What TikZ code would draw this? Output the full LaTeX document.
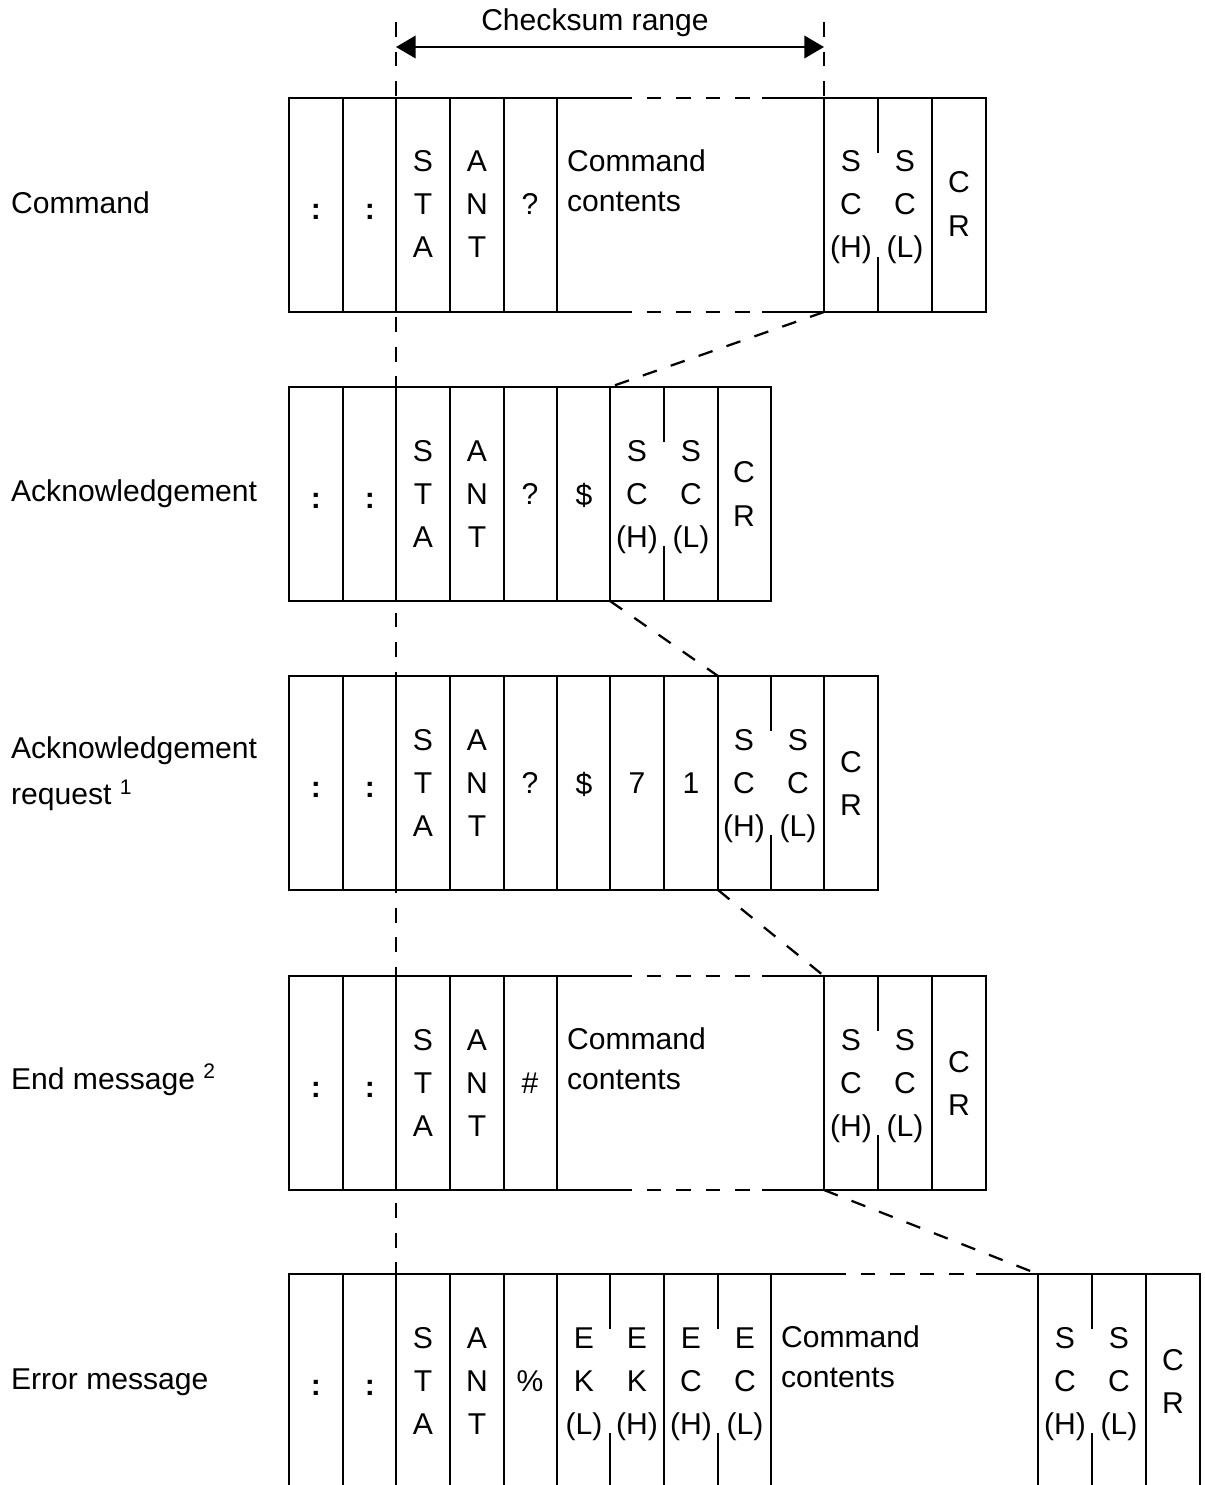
\documentclass[tikz,border=0pt]{standalone}
\usepackage{fontspec}
\setmainfont{Liberation Sans}
\usetikzlibrary{arrows.meta, positioning}

\begin{document}
\begin{tikzpicture}[
    x=0.025cm, y=-0.025cm,
    line width=1.6pt,
    every node/.style={font=\fontsize{21.4}{30.6}\selectfont, inner sep=0pt},
    cell/.style={align=center, text depth=0pt},
    colon/.style={font=\fontsize{21.4}{30.6}\selectfont\bfseries},
    txt/.style={anchor=north west, align=left, font=\fontsize{21.4}{28.4}\selectfont},
    lbl/.style={anchor=base west},
    frame/.style={line cap=rect},
    guide/.style={dash pattern=on 10.5pt off 10.5pt},
    rangearrow/.style={{Triangle[length=14pt, width=16pt]}-{Triangle[length=14pt, width=16pt]}}
  ]
  \useasboundingbox (0,0) rectangle (1204,1485);
  \clip (0,0) rectangle (1204,1485);

  % checksum range
  \coordinate (gl-top) at (396,22);
  \coordinate (gl-bot) at (396,1274);
  \coordinate (gr-top) at (824,22);
  \coordinate (gr-bot) at (824,98);
  \draw[guide] (gl-top) -- (gl-bot);
  \draw[guide] (gr-top) -- (gr-bot);
  \coordinate (rng-l) at (396,47);
  \coordinate (rng-r) at (824,47);
  \draw[rangearrow] (rng-l) -- (rng-r);
  \node (rng) at (595,23) {Checksum range};

  % command
  \foreach \x in {289,343,396,450,504,557,824,932,986}
    \draw[frame] (\x,98) -- (\x,312);
  \draw[frame] (878,98) -- (878,152) (878,258) -- (878,312);
  \foreach \y in {98,312} {
    \draw[frame] (289,\y) -- (617,\y) (763,\y) -- (986,\y);
    \draw[guide] (617,\y) -- (763,\y);
  }
  \node[lbl] (cmd) at (10,213) {Command};
  \node[colon] (cmd-1) at (316,212) {:};
  \node[colon] (cmd-2) at (370,212) {:};
  \node[cell] (cmd-sta) at (423,204) {S\\T\\A};
  \node[cell] (cmd-ant) at (477,204) {A\\N\\T};
  \node[cell] (cmd-q) at (530,204) {?};
  \node[txt] (cmd-txt) at (566,149) {Command\\contents};
  \node[cell] (cmd-sch) at (851,204) {S\\C\\(H)};
  \node[cell] (cmd-scl) at (905,204) {S\\C\\(L)};
  \node[cell] (cmd-cr) at (959,204) {C\\R};
  \coordinate (cmd-sc) at (824,312);

  % acknowledgement
  \foreach \x in {289,343,396,450,504,557,610,718,771}
    \draw[frame] (\x,387) -- (\x,601);
  \draw[frame] (664,387) -- (664,441) (664,547) -- (664,601);
  \draw[frame] (289,387) -- (771,387) (289,601) -- (771,601);
  \node[lbl] (ack) at (10,501) {Acknowledgement};
  \node[colon] (ack-1) at (316,501) {:};
  \node[colon] (ack-2) at (370,501) {:};
  \node[cell] (ack-sta) at (423,494) {S\\T\\A};
  \node[cell] (ack-ant) at (477,494) {A\\N\\T};
  \node[cell] (ack-q) at (530,494) {?};
  \node[cell] (ack-d) at (584,494) {\$};
  \node[cell] (ack-sch) at (637,494) {S\\C\\(H)};
  \node[cell] (ack-scl) at (691,494) {S\\C\\(L)};
  \node[cell] (ack-cr) at (744,494) {C\\R};
  \coordinate (ack-sct) at (610,387);
  \coordinate (ack-scb) at (610,601);

  % acknowledgement request
  \foreach \x in {289,343,396,450,504,557,610,664,718,824,878}
    \draw[frame] (\x,676) -- (\x,890);
  \draw[frame] (771,676) -- (771,730) (771,836) -- (771,890);
  \draw[frame] (289,676) -- (878,676) (289,890) -- (878,890);
  \node[anchor=west, align=left, font=\fontsize{21.4}{32.7}\selectfont] (req)
    at (10,774) {Acknowledgement\\request \textsuperscript{1}};
  \node[colon] (req-1) at (316,790) {:};
  \node[colon] (req-2) at (370,790) {:};
  \node[cell] (req-sta) at (423,783) {S\\T\\A};
  \node[cell] (req-ant) at (477,783) {A\\N\\T};
  \node[cell] (req-q) at (530,783) {?};
  \node[cell] (req-d) at (584,783) {\$};
  \node[cell] (req-7) at (637,783) {7};
  \node[cell] (req-1) at (691,783) {1};
  \node[cell] (req-sch) at (744,783) {S\\C\\(H)};
  \node[cell] (req-scl) at (798,783) {S\\C\\(L)};
  \node[cell] (req-cr) at (851,783) {C\\R};
  \coordinate (req-sct) at (718,676);
  \coordinate (req-scb) at (718,890);

  % end message
  \foreach \x in {289,343,396,450,504,557,824,932,986}
    \draw[frame] (\x,976) -- (\x,1190);
  \draw[frame] (878,976) -- (878,1030) (878,1136) -- (878,1190);
  \foreach \y in {976,1190} {
    \draw[frame] (289,\y) -- (617,\y) (763,\y) -- (986,\y);
    \draw[guide] (617,\y) -- (763,\y);
  }
  \node[lbl] (end) at (10,1089) {End message \textsuperscript{2}};
  \node[colon] (end-1) at (316,1090) {:};
  \node[colon] (end-2) at (370,1090) {:};
  \node[cell] (end-sta) at (423,1083) {S\\T\\A};
  \node[cell] (end-ant) at (477,1083) {A\\N\\T};
  \node[cell] (end-h) at (530,1083) {\#};
  \node[txt] (end-txt) at (566,1027) {Command\\contents};
  \node[cell] (end-sch) at (851,1083) {S\\C\\(H)};
  \node[cell] (end-scl) at (905,1083) {S\\C\\(L)};
  \node[cell] (end-cr) at (959,1083) {C\\R};
  \coordinate (end-sct) at (824,976);
  \coordinate (end-scb) at (824,1190);

  % error message
  \foreach \x in {289,343,396,450,504,557,664,771,1038,1146,1200}
    \draw[frame] (\x,1274) -- (\x,1488);
  \foreach \x in {610,718,1092}
    \draw[frame] (\x,1274) -- (\x,1328) (\x,1434) -- (\x,1488);
  \foreach \y in {1274,1488} {
    \draw[frame] (289,\y) -- (831,\y) (977,\y) -- (1200,\y);
    \draw[guide] (831,\y) -- (977,\y);
  }
  \node[lbl] (err) at (10,1389) {Error message};
  \node[colon] (err-1) at (316,1388) {:};
  \node[colon] (err-2) at (370,1388) {:};
  \node[cell] (err-sta) at (423,1381) {S\\T\\A};
  \node[cell] (err-ant) at (477,1381) {A\\N\\T};
  \node[cell] (err-p) at (530,1381) {\%};
  \node[cell] (err-ekl) at (584,1381) {E\\K\\(L)};
  \node[cell] (err-ekh) at (637,1381) {E\\K\\(H)};
  \node[cell] (err-ech) at (691,1381) {E\\C\\(H)};
  \node[cell] (err-ecl) at (745,1381) {E\\C\\(L)};
  \node[txt] (err-txt) at (780,1325) {Command\\contents};
  \node[cell] (err-sch) at (1065,1381) {S\\C\\(H)};
  \node[cell] (err-scl) at (1119,1381) {S\\C\\(L)};
  \node[cell] (err-cr) at (1173,1381) {C\\R};
  \coordinate (err-sct) at (1038,1274);

  % checksum links
  \draw[guide] (cmd-sc) -- (ack-sct);
  \draw[guide] (ack-scb) -- (req-sct);
  \draw[guide] (req-scb) -- (end-sct);
  \draw[guide] (end-scb) -- (err-sct);
\end{tikzpicture}
\end{document}
